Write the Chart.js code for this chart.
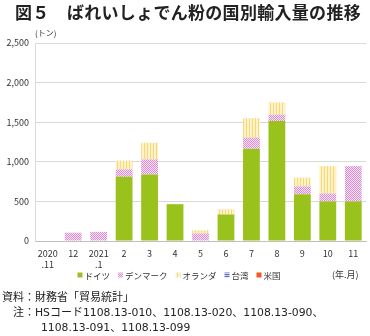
<!DOCTYPE html>
<html><head><meta charset="utf-8">
<script src="https://cdn.jsdelivr.net/npm/chart.js@4/dist/chart.umd.min.js"></script>
<style>
html,body{margin:0;padding:0;background:#fff;width:370px;height:336px;overflow:hidden;font-family:"Noto Sans CJK JP",sans-serif;color:#222}
#title{position:absolute;left:15px;top:1px;font-size:17px;font-weight:700;letter-spacing:0.3px;white-space:nowrap;line-height:22px}
#wrap{position:absolute;left:0;top:0;width:370px;height:290px}
.note{position:absolute;font-size:11px;white-space:nowrap;line-height:15px}
.lat{font-family:"DejaVu Sans","Noto Sans CJK JP",sans-serif;font-size:10.8px}
</style></head>
<body>
<div id="wrap"><canvas id="c" width="370" height="290"></canvas></div>
<div id="title">図５　ばれいしょでん粉の国別輸入量の推移</div>
<div class="note" style="left:2px;top:289px">資料：財務省「貿易統計」</div>
<div class="note" style="left:2px;top:304px">　注：<span class="lat">HS</span>コード<span class="lat">1108.13-010</span>、<span class="lat">1108.13-020</span>、<span class="lat">1108.13-090</span>、</div>
<div class="note" style="left:41px;top:319px"><span class="lat">1108.13-091</span>、<span class="lat">1108.13-099</span></div>
<script>
const categories = [["2020",".11"],"12",["2021",".1"],"2","3","4","5","6","7","8","9","10","11"];
const seriesNames = ["ドイツ","デンマーク","オランダ","台湾","米国"];
const germany     = [0,   0,   0, 810, 840, 465,  0, 335, 1165, 1515, 590, 500, 500];
const denmark     = [0, 105, 115,  95, 190,   0, 95,   0,  140,   80, 100, 100, 445];
const netherlands = [0,   0,   0, 110, 210,   0, 40,  65,  245,  155, 110, 345,   0];
const taiwan      = [0,   0,   0,   0,   0,   0,  0,   0,    0,    0,   0,   0,   0];
const usa         = [0,   0,   0,   0,   0,   0,  0,   0,    0,    0,   0,   0,   0];
const yTicks = [0,500,1000,1500,2000,2500];

function pattern(w,h,draw){
  const cv=document.createElement('canvas');cv.width=w;cv.height=h;
  const x=cv.getContext('2d');draw(x);
  return document.getElementById('c').getContext('2d').createPattern(cv,'repeat');
}
const dotPat = pattern(2,2,x=>{x.fillStyle='#f6e0f2';x.fillRect(0,0,2,2);x.fillStyle='#d990d0';x.fillRect(0,0,1,1);x.fillRect(1,1,1,1);});
const stripePat = pattern(3,3,x=>{x.fillStyle='#fdf2c8';x.fillRect(0,0,3,3);x.fillStyle='#f6d77a';x.fillRect(0,0,1,3);});
const hPat = pattern(2,2,x=>{x.fillStyle='#c9d2ee';x.fillRect(0,0,2,2);x.fillStyle='#5a74c2';x.fillRect(0,0,2,1);});

const FONT = '"Noto Sans CJK JP", sans-serif';
const extra = {
  id:'extra',
  afterDraw(chart){
    const c=chart.ctx;c.save();
    c.fillStyle='#333';c.font='8px '+FONT;c.textBaseline='middle';c.textAlign='left';
    c.fillText('(トン)',35,33);
    c.font='9px '+FONT;
    c.fillText('(年.月)',332,275);
    // legend row, centred
    const ly=275.5, box=5, gapT=2, gapI=8;
    c.font='8.5px '+FONT;
    const dss=chart.data.datasets;
    const widths=dss.map(d=>c.measureText(d.label).width);
    const total=widths.reduce((a,w)=>a+box+gapT+w,0)+gapI*(dss.length-1);
    let x=179-total/2;
    dss.forEach((ds,i)=>{
      c.fillStyle=ds.backgroundColor;
      c.fillRect(x,ly-3,box,box);
      c.fillStyle='#333';
      c.fillText(ds.label,x+box+gapT,ly);
      x+=box+gapT+widths[i]+gapI;
    });
    c.restore();
  }
};

new Chart(document.getElementById('c'),{
  type:'bar',
  data:{labels:categories,datasets:[
    {label:seriesNames[0],data:germany,backgroundColor:'#99c31c'},
    {label:seriesNames[1],data:denmark,backgroundColor:dotPat},
    {label:seriesNames[2],data:netherlands,backgroundColor:stripePat},
    {label:seriesNames[3],data:taiwan,backgroundColor:hPat},
    {label:seriesNames[4],data:usa,backgroundColor:'#ee5a24'}
  ]},
  plugins:[extra],
  options:{
    responsive:false,animation:false,
    layout:{padding:{top:43,right:4,left:0,bottom:19}},
    datasets:{bar:{categoryPercentage:1,barPercentage:0.66,borderWidth:0}},
    plugins:{tooltip:{enabled:false},legend:{display:false}},
    scales:{
      x:{stacked:true,grid:{display:false,drawTicks:false},border:{color:'#bfbfbf'},
         ticks:{color:'#333',padding:7,font:{size:9,family:FONT},maxRotation:0,autoSkip:false},
         afterFit(s){s.height=30;}},
      y:{stacked:true,min:0,max:2500,
         grid:{color:'#d9d9d9',drawTicks:false},border:{color:'#d9d9d9'},
         afterBuildTicks(s){s.ticks=yTicks.map(v=>({value:v}));},
         ticks:{color:'#333',padding:6,font:{size:9,family:FONT},callback:v=>v.toLocaleString('en-US')},
         afterFit(s){s.width=35;}}
    }
  }
});
</script>
</body></html>
